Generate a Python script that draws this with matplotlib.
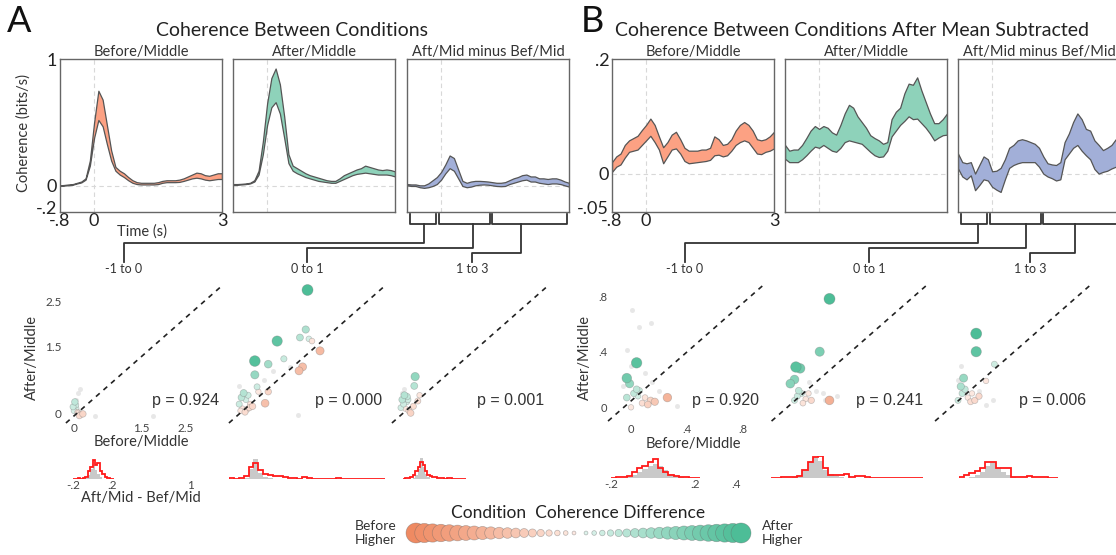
import numpy as np
import matplotlib.pyplot as plt
from matplotlib.colors import to_rgb
from matplotlib.transforms import blended_transform_factory

plt.rcParams['font.family'] = ['Lato', 'DejaVu Sans']
plt.rcParams['text.color'] = '#222222'
plt.rcParams['xtick.color'] = '#222222'
plt.rcParams['ytick.color'] = '#222222'

W, H = 1116, 555

# time axis of the coherence traces (s)
t = np.round(np.arange(-0.8, 3.05, 0.1), 1)

# ---- panel A: coherence bands (lower / upper edge) ----
a_bef_hi = [0.005, 0.008, 0.012, 0.015, 0.025, 0.035, 0.06, 0.2, 0.5, 0.75, 0.68, 0.48, 0.28,
            0.15, 0.12, 0.10, 0.07, 0.045, 0.03, 0.025, 0.025, 0.025, 0.025, 0.03, 0.04, 0.045,
            0.045, 0.045, 0.05, 0.06, 0.075, 0.09, 0.105, 0.1, 0.085, 0.08, 0.09, 0.1, 0.1]
a_bef_lo = [0.0, 0.003, 0.006, 0.01, 0.02, 0.028, 0.05, 0.16, 0.38, 0.52, 0.47, 0.33, 0.2,
            0.12, 0.09, 0.07, 0.045, 0.025, 0.015, 0.012, 0.012, 0.012, 0.012, 0.015, 0.025, 0.03,
            0.03, 0.03, 0.032, 0.04, 0.05, 0.06, 0.065, 0.06, 0.05, 0.045, 0.05, 0.055, 0.055]
a_aft_hi = [0.015, 0.015, 0.017, 0.02, 0.025, 0.045, 0.12, 0.35, 0.65, 0.85, 0.925, 0.8, 0.55,
            0.25, 0.16, 0.14, 0.12, 0.1, 0.085, 0.075, 0.065, 0.055, 0.045, 0.04, 0.04, 0.06,
            0.085, 0.1, 0.115, 0.13, 0.14, 0.16, 0.15, 0.14, 0.13, 0.125, 0.13, 0.125, 0.115]
a_aft_lo = [0.01, 0.01, 0.012, 0.015, 0.02, 0.035, 0.09, 0.25, 0.48, 0.62, 0.66, 0.57, 0.38,
            0.18, 0.12, 0.1, 0.085, 0.07, 0.06, 0.05, 0.04, 0.035, 0.03, 0.025, 0.025, 0.04,
            0.055, 0.07, 0.085, 0.095, 0.1, 0.105, 0.1, 0.095, 0.09, 0.09, 0.09, 0.085, 0.075]
a_dif_hi = [0.015, 0.012, 0.012, 0.005, 0.005, 0.02, 0.045, 0.07, 0.11, 0.17, 0.24, 0.22, 0.13,
            0.04, 0.025, 0.035, 0.04, 0.04, 0.038, 0.035, 0.03, 0.025, 0.025, 0.03, 0.045, 0.06,
            0.07, 0.085, 0.09, 0.075, 0.075, 0.06, 0.06, 0.055, 0.06, 0.06, 0.05, 0.035, 0.025]
a_dif_lo = [0.005, 0.0, 0.0, -0.01, -0.015, -0.01, 0.0, 0.015, 0.05, 0.1, 0.14, 0.12, 0.06,
            0.0, -0.01, -0.005, 0.005, 0.01, 0.012, 0.01, 0.005, 0.0, -0.002, 0.0, 0.015, 0.025,
            0.035, 0.045, 0.05, 0.035, 0.035, 0.025, 0.02, 0.015, 0.02, 0.02, 0.015, 0.005, -0.005]

# ---- panel B: coherence after mean subtracted ----
b_bef_hi = [0.02, 0.03, 0.035, 0.05, 0.058, 0.062, 0.066, 0.076, 0.085, 0.096, 0.085, 0.065,
            0.046, 0.055, 0.068, 0.073, 0.06, 0.045, 0.04, 0.04, 0.04, 0.042, 0.042, 0.045,
            0.065, 0.06, 0.05, 0.052, 0.06, 0.075, 0.085, 0.09, 0.085, 0.075, 0.06, 0.058,
            0.06, 0.065, 0.073]
b_bef_lo = [0.003, 0.012, 0.016, 0.028, 0.038, 0.04, 0.042, 0.05, 0.058, 0.066, 0.055, 0.042,
            0.018, 0.03, 0.042, 0.044, 0.035, 0.022, 0.018, 0.019, 0.02, 0.021, 0.022, 0.024,
            0.032, 0.033, 0.03, 0.032, 0.04, 0.05, 0.055, 0.058, 0.055, 0.045, 0.035, 0.034,
            0.038, 0.04, 0.044]
b_aft_hi = [0.05, 0.04, 0.042, 0.042, 0.05, 0.062, 0.075, 0.083, 0.078, 0.083, 0.08, 0.072,
            0.068, 0.085, 0.105, 0.12, 0.115, 0.1, 0.09, 0.08, 0.067, 0.062, 0.058, 0.052,
            0.055, 0.095, 0.108, 0.115, 0.14, 0.157, 0.155, 0.168, 0.145, 0.125, 0.105, 0.088,
            0.088, 0.095, 0.105]
b_aft_lo = [0.026, 0.02, 0.02, 0.02, 0.025, 0.032, 0.04, 0.047, 0.045, 0.05, 0.045, 0.04,
            0.038, 0.045, 0.055, 0.058, 0.056, 0.054, 0.052, 0.045, 0.038, 0.032, 0.029, 0.03,
            0.04, 0.065, 0.075, 0.085, 0.092, 0.1, 0.095, 0.096, 0.088, 0.08, 0.07, 0.058,
            0.063, 0.067, 0.068]
b_dif_hi = [0.035, 0.02, 0.018, 0.02, 0.0, 0.015, 0.03, 0.025, 0.004, 0.005, 0.01, 0.025,
            0.045, 0.05, 0.058, 0.06, 0.058, 0.055, 0.052, 0.045, 0.03, 0.018, 0.016, 0.015,
            0.02, 0.055, 0.07, 0.09, 0.105, 0.095, 0.078, 0.075, 0.058, 0.05, 0.041, 0.045,
            0.05, 0.06, 0.065]
b_dif_lo = [0.009, -0.005, -0.01, -0.003, -0.029, -0.02, -0.01, -0.012, -0.023, -0.028, -0.032,
            -0.01, 0.01, 0.015, 0.018, 0.02, 0.02, 0.02, 0.02, 0.012, 0.0, -0.005, -0.008,
            -0.012, -0.01, 0.025, 0.035, 0.045, 0.05, 0.04, 0.032, 0.025, 0.008, 0.0, 0.003,
            0.005, 0.009, 0.012, 0.015]

cond_names = ['Before/Middle', 'After/Middle', 'Aft/Mid minus Bef/Mid']
window_names = ['-1 to 0', '0 to 1', '1 to 3']
p_a = ['0.924', '0.000', '0.001']
p_b = ['0.920', '0.241', '0.006']

# ---- scatter points per window: (before/middle, after/middle) ----
sa_x = [[0.02, -0.02, 0.0, 0.05, 0.08, 0.2, 0.12, 0.1, 0.04, 0.15],
        [1.58, 1.54, 1.41, 1.61, 1.68, 0.90, 1.86, 0.40, 0.70, 1.05, 0.40, 1.47, 1.39, 0.45,
         0.48, 0.70, 0.63, 0.10, 0.15, 0.2, 0.25, 0.05, 0.12, 0.3, 0.35, 0.08, 0.18, 0.22, 0.28],
        [0.34, 0.32, 0.16, 0.40, 0.24, 0.44, 0.05, 0.1, 0.08, 0.15, 0.12, 0.2, 0.3, 0.02, 0.18]]
sa_y = [[0.25, 0.14, 0.05, 0.1, 0.02, -0.02, -0.06, 0.0, 0.18, -0.03],
        [2.77, 1.88, 1.70, 1.67, 1.62, 1.62, 1.40, 1.17, 1.10, 1.22, 0.86, 1.04, 0.95, 0.59,
         0.48, 0.48, 0.22, 0.35, 0.45, 0.30, 0.40, 0.2, 0.1, 0.2, 0.15, 0.05, 0.02, 0.08, 0.12],
        [0.82, 0.61, 0.37, 0.27, 0.0, 0.40, 0.3, 0.4, 0.2, 0.25, 0.1, 0.05, 0.15, 0.12, 0.3]]
ga_x = [[0.14, 0.46, 1.78, 0.1, 0.05], [1.37, 1.19, 0.8, 0.05, 0.6], [0.1, 0.05]]
ga_y = [[0.54, -0.06, -0.06, 0.45, 0.3], [-0.05, 1.04, 0.95, 0.6, 0.75], [0.55, 0.45]]

sb_x = [[0.04, -0.03, -0.01, 0.04, 0.06, -0.03, 0.26, 0.17, 0.10, 0.08, 0.0, 0.12, 0.05, 0.02, 0.14],
        [0.25, 0.18, 0.01, 0.04, -0.03, 0.0, 0.03, 0.02, 0.05, 0.25, 0.08, 0.12, 0.06, 0.1, 0.0],
        [0.13, 0.13, 0.26, 0.20, 0.04, 0.02, 0.03, 0.10, 0.09, 0.07, 0.12, 0.05, 0.0, 0.15]]
sb_y = [[0.32, 0.21, 0.17, 0.13, 0.12, 0.07, 0.07, 0.04, 0.07, 0.03, 0.0, 0.02, 0.08, 0.1, 0.05],
        [0.78, 0.40, 0.29, 0.28, 0.17, 0.2, 0.12, 0.08, 0.1, 0.05, 0.06, 0.05, 0.03, 0.1, 0.05],
        [0.53, 0.40, 0.31, 0.19, 0.21, 0.15, 0.10, 0.10, 0.04, 0.07, 0.05, 0.13, 0.05, 0.08]]
gb_x = [[0.01, 0.14, 0.06, -0.03, 0.2, 0.33, -0.06, 0.1, 0.0, 0.15],
        [0.15, 0.2, 0.1, 0.02, 0.22, 0.3],
        [0.02, 0.2, 0.25, 0.0, 0.15]]
gb_y = [[0.7, 0.61, 0.58, 0.41, 0.12, 0.01, 0.15, 0.25, 0.3, 0.18],
        [0.12, 0.1, 0.18, 0.3, 0.05, 0.08],
        [0.3, 0.02, 0.05, 0.2, 0.12]]

# ---- histograms of Aft/Mid - Bef/Mid (red = observed, gray = null) ----
ha_width = [0.025, 0.05, 0.025]
ha_red = [[0, 0, 1, 0, 1, 2, 8, 12, 19, 14, 16, 8, 5, 2, 1, 0, 0],
          [1, 0, 1, 3, 12, 16, 9, 5, 4, 3, 3, 2, 1, 1, 0, 2, 1, 0, 0, 0, 0, 0, 1, 0, 0, 0, 0, 0, 0, 0, 0, 0],
          [0, 1, 1, 2, 4, 8, 12, 17, 14, 8, 4, 3, 2, 2, 1, 1, 1, 0, 1, 1, 0, 0, 0, 0, 0, 0]]
ha_gray = [[0, 0, 0, 0, 0, 1, 4, 10, 14, 9, 5, 2, 0, 0, 0, 0, 0],
           [0, 0, 0, 1, 10, 20, 6, 2, 1, 0, 0, 0, 0, 0, 0, 0, 0, 0, 0, 0, 0, 0, 0, 0, 0, 0, 0, 0, 0, 0, 0, 0],
           [0, 0, 0, 0, 1, 4, 10, 21, 12, 5, 2, 0, 0, 0, 0, 0, 0, 0, 0, 0, 0, 0, 0, 0, 0, 0]]
hb_width = [0.025, 0.025, 0.025]
hb_red = [[0, 1, 1, 2, 6, 10, 12, 16, 19, 10, 6, 3, 2, 1, 1, 0, 0],
          [0, 0, 1, 1, 1, 2, 8, 16, 21, 22, 10, 3, 3, 3, 4, 1, 2, 2, 1, 0, 0, 0, 0, 0, 0, 0, 0, 0, 0],
          [1, 3, 5, 7, 10, 16, 16, 10, 10, 10, 1, 1, 1, 2, 1, 1, 1, 0, 0]]
hb_gray = [[0, 0, 0, 1, 3, 6, 9, 12, 14, 12, 8, 4, 2, 1, 0, 0, 0],
           [0, 0, 0, 0, 1, 3, 8, 16, 20, 17, 8, 4, 2, 1, 0, 0, 0, 0, 0, 0, 0, 0, 0, 0, 0, 0, 0, 0, 0],
           [0, 0, 1, 3, 6, 12, 15, 10, 6, 3, 1, 0, 0, 0, 0, 0, 0, 0, 0]]

# legend key levels (fraction of max difference)
legend_levels = [1.0, 0.95, 0.9, 0.85, 0.8, 0.75, 0.7, 0.65, 0.6, 0.55,
                 0.5, 0.45, 0.4, 0.35, 0.3, 0.25, 0.2, 0.15, 0.1, 0.05]

SALMON = '#ef8a62'
GREEN = '#4dbd97'
FILLS = ['#fca183', '#8ed2ba', '#a2afd8']
LINE = '#333333'


def mix(base, a):
    r, g, b = to_rgb(base)
    return (1 - a * (1 - r), 1 - a * (1 - g), 1 - a * (1 - b))


fig = plt.figure(figsize=(W / 100, H / 100), dpi=100)


def px_axes(left, top, w, h):
    return fig.add_axes([left / W, 1 - (top + h) / H, w / W, h / H])


# overlay in pixel coordinates for labels and connectors
ov = px_axes(0, 0, W, H)
ov.set_xlim(0, W)
ov.set_ylim(H, 0)
ov.axis('off')

# ---------------- top rows ----------------
def top_panels(lefts, series, ylim, yticks, yticklabels):
    axes = []
    for k, (lo, hi) in enumerate(series):
        ax = px_axes(lefts[k], 59, 162, 153)
        ax.fill_between(t, lo, hi, facecolor=FILLS[k], edgecolor='#555555', linewidth=0.9)
        ax.axvline(0, color='#d8d8d8', ls=(0, (4, 3)), lw=0.8, zorder=0)
        ax.axhline(0, color='#d8d8d8', ls=(0, (4, 3)), lw=0.8, zorder=0)
        ax.set_xlim(-0.8, 3)
        ax.set_ylim(*ylim)
        for s in ax.spines.values():
            s.set_color('#666666')
            s.set_linewidth(1.0)
        ax.set_title(cond_names[k], fontsize=10.5, pad=2, color='#333333')
        if k == 0:
            ax.set_xticks([-0.8, 0, 3])
            ax.set_xticklabels(['-.8', '0', '3'])
            ax.set_yticks(yticks)
            ax.set_yticklabels(yticklabels)
            ax.tick_params(length=0, labelsize=13, pad=2)
            ax.tick_params(axis='x', pad=1)
        else:
            ax.set_xticks([])
            ax.set_yticks([])
        axes.append(ax)
    return axes


# bottom y tick label sits a little above the frame edge, as in the original
axA = top_panels([60, 233, 407], [(a_bef_lo, a_bef_hi), (a_aft_lo, a_aft_hi), (a_dif_lo, a_dif_hi)],
                 (-0.205, 1.0), [-0.17, 0, 1], ['-.2', '0', '1'])
axB = top_panels([612, 785, 958], [(b_bef_lo, b_bef_hi), (b_aft_lo, b_aft_hi), (b_dif_lo, b_dif_hi)],
                 (-0.067, 0.2), [-0.059, 0, 0.2], ['-.05', '0', '.2'])

# brackets for the time windows under the difference panels
windows = [(-0.72, -0.12), (-0.05, 1.15), (1.2, 2.96)]
for ax in (axA[2], axB[2]):
    tr = blended_transform_factory(ax.transData, ax.transAxes)
    for w0, w1 in windows:
        ax.plot([w0, w0, w1, w1], [-0.013, -0.078, -0.078, -0.013], color=LINE, lw=1.3,
                transform=tr, clip_on=False)

conn_a = [(424, 243, 124), (472.5, 248, 307), (521, 253, 472)]
conn_b = [(978, 243, 685), (1025.5, 248, 869), (1074.5, 253, 1030)]
for conn in (conn_a, conn_b):
    for k, (xs, yh, xe) in enumerate(conn):
        ov.plot([xs, xs, xe, xe], [224, yh, yh, 262], color=LINE, lw=1.3)
        ov.text(xe, 269, window_names[k], ha='center', va='center', fontsize=9, color='#333333')

ov.text(7, 21, 'A', fontsize=26, va='center', ha='left', color='#111111')
ov.text(581, 21, 'B', fontsize=26, va='center', ha='left', color='#111111')
ov.text(292, 30, 'Coherence Between Conditions', fontsize=14, ha='center', va='center')
ov.text(852, 30, 'Coherence Between Conditions After Mean Subtracted', fontsize=14,
        ha='center', va='center')
ov.text(24, 133, 'Coherence (bits/s)', rotation=90, fontsize=10.5, ha='center', va='center',
        color='#333333')
ov.text(142, 232, 'Time (s)', fontsize=10.5, ha='center', va='center', color='#333333')


# ---------------- scatter rows ----------------
def scatter_panel(ax, xs, ys, gx, gy, dmax, diag):
    ax.scatter(gx, gy, s=(5 * 0.72) ** 2, color='#dedede', alpha=0.7, lw=0, zorder=1)
    xs = np.array(xs)
    ys = np.array(ys)
    d = ys - xs
    f = np.clip(np.abs(d) / dmax, 0, 1) ** 1.3
    order = np.argsort(f)
    cols = [mix(GREEN if di > 0 else SALMON, 0.2 + 0.8 * fi) for di, fi in zip(d, f)]
    sizes = ((5.5 + 5.5 * f) * 0.72) ** 2
    ax.scatter(xs[order], ys[order], s=sizes[order], c=[cols[i] for i in order],
               edgecolors=[(0.45, 0.45, 0.45, 0.4)], linewidths=0.5, zorder=2)
    ax.plot(diag[0], diag[1], color='#222222', lw=1.2, ls=(0, (3, 3)), clip_on=False, zorder=3)
    for s in ax.spines.values():
        s.set_visible(False)
    ax.patch.set_alpha(0)


def hist_panel(ax, red, gray, width, xlim):
    edges = xlim[0] + width * np.arange(len(red) + 1)
    ax.stairs(gray, edges, fill=True, color='#c4c4c4', alpha=0.9)
    ax.stairs(red, edges, color='#ff1a1a', lw=1.3)
    ax.set_xlim(*xlim)
    ax.set_ylim(0, 22)
    ax.set_yticks([])
    for s in ax.spines.values():
        s.set_visible(False)
    ax.patch.set_alpha(0)


# panel A scatter
for k in range(3):
    ax = px_axes(62.8 + 163 * k, 282, 163, 139.9)
    scatter_panel(ax, sa_x[k], sa_y[k], ga_x[k], ga_y[k], 0.8,
                  ([-0.18, 3.33], [-0.225, 2.88]))
    ax.set_xlim(-0.25, 3.4)
    ax.set_ylim(-0.2, 2.95)
    if k == 0:
        ax.set_xticks([0, 1.5, 2.5])
        ax.set_xticklabels(['0', '1.5', '2.5'])
        ax.set_yticks([0, 1.5, 2.5])
        ax.set_yticklabels(['0', '1.5', '2.5'])
        ax.tick_params(length=0, labelsize=8.5, pad=1, labelcolor='#444444')
    else:
        ax.set_xticks([])
        ax.set_yticks([])
    ov.text(186 + 162.5 * k, 401, 'p = ' + p_a[k], family=['Liberation Sans', 'DejaVu Sans'],
            fontsize=11.5, ha='center', va='center', color='#333333')

# panel B scatter
for k in range(3):
    ax = px_axes(607.2 + 163.5 * k, 279.4, 156.8, 144.6)
    scatter_panel(ax, sb_x[k], sb_y[k], gb_x[k], gb_y[k], 0.3,
                  ([-0.164, 0.944], [-0.099, 0.878]))
    ax.set_xlim(-0.17, 0.95)
    ax.set_ylim(-0.12, 0.92)
    if k == 0:
        ax.set_xticks([0, 0.4, 0.8])
        ax.set_xticklabels(['0', '.4', '.8'])
        ax.set_yticks([0, 0.4, 0.8])
        ax.set_yticklabels(['0', '.4', '.8'])
        ax.tick_params(length=0, labelsize=8, pad=0, labelcolor='#444444')
    else:
        ax.set_xticks([])
        ax.set_yticks([])
    ov.text(726 + 163.5 * k, 400, 'p = ' + p_b[k], family=['Liberation Sans', 'DejaVu Sans'],
            fontsize=11.5, ha='center', va='center', color='#333333')

for x0 in (32, 585):
    ov.text(x0, 357, 'After/Middle', rotation=90, fontsize=10.5, ha='center', va='center',
            color='#333333')
ov.text(141, 442, 'Before/Middle', fontsize=10.5, ha='center', va='center', color='#333333')
ov.text(693, 444, 'Before/Middle', fontsize=10.5, ha='center', va='center', color='#333333')

# histograms
for k, left in enumerate([73, 229, 403]):
    ax = px_axes(left, 457, 156, 22)
    hist_panel(ax, ha_red[k], ha_gray[k], ha_width[k], (-0.2, 1.4))
    if k == 0:
        ax.set_xticks([-0.2, 0.2, 1])
        ax.set_xticklabels(['-.2', '.2', '1'])
        ax.tick_params(length=0, labelsize=8.5, pad=1, labelcolor='#444444')
    else:
        ax.set_xticks([])
ov.text(141, 498, 'Aft/Mid - Bef/Mid', fontsize=10.5, ha='center', va='center', color='#333333')

for k, left in enumerate([611, 771, 959]):
    ax = px_axes(left, 456, 156.8, 22)
    hist_panel(ax, hb_red[k], hb_gray[k], hb_width[k], (-0.2, 0.55))
    if k == 0:
        ax.set_xticks([-0.2, 0.2, 0.4])
        ax.set_xticklabels(['-.2', '.2', '.4'])
        ax.tick_params(length=0, labelsize=8.5, pad=1, labelcolor='#444444')
    else:
        ax.set_xticks([])

# ---------------- legend key ----------------
lev = np.array(legend_levels)
n = len(lev)
left_x = np.linspace(416, 574, n)
right_x = np.linspace(586, 741, n)
ov.scatter(left_x, np.full(n, 533), s=((3 + 17 * lev) * 0.72) ** 2,
           c=[mix(SALMON, 0.15 + 0.85 * v) for v in lev],
           edgecolors=[(0.4, 0.4, 0.4, 0.45)], linewidths=0.5, zorder=2)
ov.scatter(right_x, np.full(n, 533), s=((3 + 17 * lev[::-1]) * 0.72) ** 2,
           c=[mix(GREEN, 0.15 + 0.85 * v) for v in lev[::-1]],
           edgecolors=[(0.4, 0.4, 0.4, 0.45)], linewidths=0.5, zorder=2)
ov.text(578, 513, 'Condition  Coherence Difference', fontsize=12.5, ha='center', va='center')
ov.text(396, 533, 'Before\nHigher', fontsize=10, ha='right', va='center', color='#333333',
        linespacing=1.1)
ov.text(762, 533, 'After\nHigher', fontsize=10, ha='left', va='center', color='#333333',
        linespacing=1.1)

fig.savefig('out.png', dpi=100)
